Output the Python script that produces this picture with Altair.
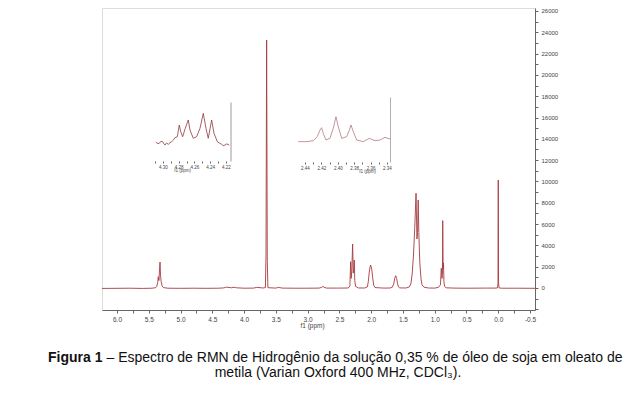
import altair as alt
import pandas as pd

# ---------------- data ----------------
main_ppm = [6.236, 6.0, 5.8, 5.6, 5.45, 5.39, 5.375, 5.36, 5.35, 5.34, 5.333, 5.323, 5.315, 5.305, 5.29, 5.27,
            5.2, 5.0, 4.8, 4.6, 4.4, 4.32, 4.29, 4.27, 4.2, 4.16, 4.12, 4.0, 3.85, 3.8, 3.7, 3.665, 3.655,
            3.645, 3.635, 3.625, 3.5, 3.46, 3.4, 3.2, 3.0, 2.82, 2.78, 2.76, 2.74, 2.70, 2.5, 2.36, 2.335,
            2.323, 2.315, 2.305, 2.292, 2.282, 2.272, 2.266, 2.258, 2.245, 2.2, 2.1, 2.06, 2.045, 2.03, 2.02,
            2.009, 2.0, 1.99, 1.975, 1.96, 1.94, 1.8, 1.7, 1.665, 1.645, 1.63, 1.614, 1.6, 1.585, 1.57, 1.55,
            1.45, 1.40, 1.375, 1.355, 1.335, 1.315, 1.294, 1.28, 1.27, 1.26, 1.25, 1.235, 1.215, 1.2, 1.17,
            1.1, 1.0, 0.94, 0.91, 0.897, 0.885, 0.878, 0.874, 0.868, 0.862, 0.855, 0.845, 0.82, 0.7, 0.5,
            0.2, 0.05, 0.012, 0.004, 0.0, -0.004, -0.012, -0.05, -0.3, -0.578]
main_int = [-40, -30, -20, -40, -20, 30, 150, 500, 1060, 700, 1500, 2440, 1200, 590, 200, 40,
            -20, -30, -20, -30, -20, 10, 60, 80, 20, 70, 20, -20, -10, 60, 0, 40, 3000,
            23280, 2500, 30, -10, 60, -10, -20, -20, -10, 60, 150, 60, -10, -10, 0, 200,
            2470, 900, 1600, 4130, 1400, 1800, 2630, 700, 150, 0, 0, 100, 600, 1500, 1900,
            2160, 2000, 1700, 900, 250, 40, -10, 0, 80, 400, 900, 1150, 900, 400, 100, 10,
            0, 100, 400, 1300, 3000, 5600, 8890, 4600, 5200, 8260, 5200, 2400, 800, 300, 80,
            0, -10, 60, 300, 1850, 900, 1500, 6320, 1800, 2350, 600, 150, 20, -10, -20,
            -10, -10, 10, 500, 10140, 500, 10, -20, -20, -30]

inset1_ppm = [4.309, 4.3065, 4.3047, 4.3025, 4.3004, 4.2988, 4.2975, 4.2955, 4.2933, 4.291, 4.289, 4.2868,
              4.2848, 4.2818, 4.2793, 4.2775, 4.275, 4.2717, 4.2679, 4.2657, 4.2615, 4.2572, 4.253,
              4.2488, 4.2454, 4.2425, 4.2382, 4.2352, 4.231, 4.2285, 4.2255, 4.2235, 4.2213, 4.219, 4.2158]
inset1_int = [31.7, 29.5, 30.0, 33.5, 32.7, 29.0, 27.0, 30.5, 28.3, 31.0, 32.7, 35.5,
              39.5, 41.2, 61.0, 49.7, 41.2, 55.4, 69.5, 52.5, 38.5, 41.2, 55.4,
              80.8, 55.4, 38.5, 69.5, 47.0, 32.7, 30.5, 28.3, 26.0, 27.0, 29.0, 27.0]

inset2_ppm = [2.4482, 2.438, 2.4299, 2.425, 2.4217, 2.4197, 2.4177, 2.4144, 2.4095, 2.4055, 2.4022,
              2.3994, 2.3952, 2.3891, 2.3859, 2.3839, 2.3811, 2.377, 2.3689, 2.3616, 2.3546, 2.3485,
              2.3424, 2.3363]
inset2_int = [31.3, 31.3, 32.8, 39.0, 49.0, 52.8, 44.0, 33.8, 36.4, 51.8, 69.7,
              54.3, 36.4, 39.0, 49.0, 57.0, 46.7, 33.8, 31.3, 36.4, 32.8, 33.8,
              38.0, 35.4]

x_ticks = [6.0, 5.75, 5.5, 5.25, 5.0, 4.75, 4.5, 4.25, 4.0, 3.75, 3.5, 3.25, 3.0, 2.75, 2.5, 2.25,
           2.0, 1.75, 1.5, 1.25, 1.0, 0.75, 0.5, 0.25, 0.0, -0.25, -0.5]
y_ticks = [-2000, -1000, 0, 1000, 2000, 3000, 4000, 5000, 6000, 7000, 8000, 9000, 10000, 11000, 12000,
           13000, 14000, 15000, 16000, 17000, 18000, 19000, 20000, 21000, 22000, 23000, 24000, 25000, 26000]
inset1_ticks = [4.31, 4.30, 4.29, 4.28, 4.27, 4.26, 4.25, 4.24, 4.23, 4.22]
inset2_ticks = [2.44, 2.43, 2.42, 2.41, 2.40, 2.39, 2.38, 2.37, 2.36, 2.35, 2.34]

axis_title = "f1 (ppm)"
caption_bold = "Figura 1"
caption_rest = "\u2013 Espectro de RMN de Hidrog\u00eanio da solu\u00e7\u00e3o 0,35 % de \u00f3leo de soja em oleato de"
caption_line2 = "metila (Varian Oxford 400 MHz, CDCl\u2083)."

# ---------------- chart ----------------
W, H = 433, 302
FONT = "Liberation Sans"
AX = dict(labelFont=FONT, titleFont=FONT, labelColor="#444", titleColor="#444",
          tickColor="#666", grid=False)

main_df = pd.DataFrame({"ppm": main_ppm, "intensity": main_int})
ins1_df = pd.DataFrame({"ppm1": inset1_ppm, "v1": inset1_int})
ins2_df = pd.DataFrame({"ppm2": inset2_ppm, "v2": inset2_int})

main = alt.Chart(main_df).mark_line(color="#a63a3f", strokeWidth=0.9, clip=True).encode(
    x=alt.X("ppm:Q",
            scale=alt.Scale(domain=[-0.578, 6.236], reverse=True, nice=False, zero=False),
            axis=alt.Axis(orient="bottom", values=x_ticks,
                          labelExpr="abs(datum.value*2 - round(datum.value*2)) < 0.001 ? replace(format(datum.value, '.1f'), '\u2212', '-') : ''",
                          title=axis_title, titleX=210, titleFontSize=6.5, titleFontWeight="normal",
                          titlePadding=0, labelFontSize=6.5, labelPadding=3, tickSize=3,
                          domainColor="#666",
                          labelFlush=False, labelOverlap=False, **AX)),
    y=alt.Y("intensity:Q",
            scale=alt.Scale(domain=[-2065, 26280], nice=False, zero=False),
            axis=alt.Axis(orient="right", values=y_ticks,
                          labelExpr="datum.value >= 0 && datum.value % 2000 == 0 ? format(datum.value, 'd') : ''",
                          title=None, labelFontSize=6, labelPadding=3, tickSize=3,
                          domainColor="#666",
                          labelFlush=False, labelOverlap=False, **AX)),
)

ins1 = alt.Chart(ins1_df).mark_line(color="#8e3a3d", strokeWidth=0.8).encode(
    x=alt.X("ppm1:Q",
            scale=alt.Scale(domain=[4.32, 4.215], range=[45.25, 127.9], nice=False, zero=False),
            axis=alt.Axis(orient="bottom", offset=-149, values=inset1_ticks,
                          labelExpr="round(datum.value*100) % 2 == 0 ? format(datum.value, '.2f') : ''",
                          title=axis_title, titleX=80, titleY=9.5, titleBaseline="middle",
                          titleFontSize=4.5, titleFontWeight="normal",
                          labelFontSize=4.5, labelPadding=1, tickSize=2,
                          domain=False, labelFlush=False, labelOverlap=False, **AX)),
    y=alt.Y("v1:Q",
            scale=alt.Scale(domain=[0, 100], range=[153, 94], nice=False, zero=False),
            axis=alt.Axis(orient="right", offset=-304.5, labels=False, ticks=False, title=None,
                          domain=True, domainColor="#9a9a9a", **AX)),
)

ins2 = alt.Chart(ins2_df).mark_line(color="#bb8a8c", strokeWidth=0.9).encode(
    x=alt.X("ppm2:Q",
            scale=alt.Scale(domain=[2.4485, 2.3363], range=[196, 288], nice=False, zero=False),
            axis=alt.Axis(orient="bottom", offset=-148, values=inset2_ticks,
                          labelExpr="round(datum.value*100) % 2 == 0 ? format(datum.value, '.2f') : ''",
                          title=axis_title, titleX=265, titleY=9.5, titleBaseline="middle",
                          titleFontSize=4.5, titleFontWeight="normal",
                          labelFontSize=4.5, labelPadding=1, tickSize=2,
                          domain=False, labelFlush=False, labelOverlap=False, **AX)),
    y=alt.Y("v2:Q",
            scale=alt.Scale(domain=[0, 100], range=[154, 89], nice=False, zero=False),
            axis=alt.Axis(orient="right", offset=-145, labels=False, ticks=False, title=None,
                          domain=True, domainColor="#b0b0b0", **AX)),
)

cap_df1 = pd.DataFrame({"t": [caption_bold]})
cap_df2 = pd.DataFrame({"t": [caption_rest]})
cap_df3 = pd.DataFrame({"t": [caption_line2]})

cap1 = alt.Chart(cap_df1).mark_text(align="left", baseline="alphabetic", font=FONT, fontSize=14,
                                    fontWeight="bold", color="#111").encode(
    x=alt.value(-54), y=alt.value(354), text="t:N")
cap2 = alt.Chart(cap_df2).mark_text(align="left", baseline="alphabetic", font=FONT, fontSize=14,
                                    color="#111").encode(
    x=alt.value(4.5), y=alt.value(354), text="t:N")
cap3 = alt.Chart(cap_df3).mark_text(align="center", baseline="alphabetic", font=FONT, fontSize=14,
                                    color="#111").encode(
    x=alt.value(236), y=alt.value(369), text="t:N")

chart = alt.layer(main, ins1, ins2, cap1, cap2, cap3).resolve_scale(
    x="independent", y="independent"
).properties(
    width=W, height=H,
    autosize=alt.AutoSizeParams(type="none"),
    padding={"left": 94, "top": 0, "right": 90, "bottom": 75},
).configure_view(stroke="#cfcfcf", strokeWidth=1).configure(background="white")

chart.save("out.html", embed_options={"renderer": "svg", "actions": False})
